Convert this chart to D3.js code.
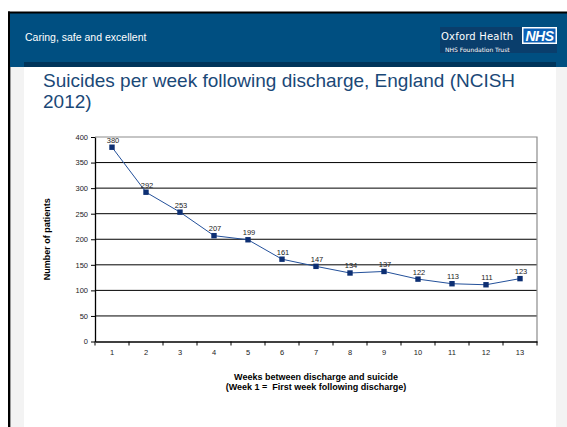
<!DOCTYPE html>
<html>
<head>
<meta charset="utf-8">
<script src="https://cdn.jsdelivr.net/npm/d3@7"></script>
<style>
  body { margin: 0; background: #fff; }
  svg { display: block; font-family: "Liberation Sans", Arial, sans-serif; }
</style>
</head>
<body>
<div id="slide"></div>
<script>
// chart data
const weeks = ["1","2","3","4","5","6","7","8","9","10","11","12","13"];
const suicides = [380, 292, 253, 207, 199, 161, 147, 134, 137, 122, 113, 111, 123];
const yTicks = [0, 50, 100, 150, 200, 250, 300, 350, 400];

const headerText = "Caring, safe and excellent";
const titleLines = ["Suicides per week following discharge, England (NCISH", "2012)"];
const yTitle = "Number of patients";
const xTitleLines = ["Weeks between discharge and suicide", "(Week 1 =  First week following discharge)"];

const width = 567, height = 427;

const svg = d3.select("#slide")
  .append("svg")
  .attr("width", width)
  .attr("height", height);

// slide frame
svg.append("rect").attr("x", 0).attr("y", 0).attr("width", width).attr("height", height).attr("fill", "#fff");
svg.append("rect").attr("x", 10).attr("y", 67).attr("width", 14).attr("height", height - 67).attr("fill", "#f3f3f3");
svg.append("rect").attr("x", 556).attr("y", 67).attr("width", 11).attr("height", height - 67).attr("fill", "#f3f3f3");
svg.append("rect").attr("x", 10).attr("y", 13).attr("width", width - 10).attr("height", 54).attr("fill", "#004f81");
svg.append("rect").attr("x", 24).attr("y", 62).attr("width", 532).attr("height", 5).attr("fill", "#00345a");
svg.append("rect").attr("x", 8).attr("y", 11.5).attr("width", width - 8).attr("height", 2).attr("fill", "#000");
svg.append("rect").attr("x", 8).attr("y", 11.5).attr("width", 2).attr("height", height).attr("fill", "#000");
svg.append("rect").attr("x", 10).attr("y", 67).attr("width", 1).attr("height", height).attr("fill", "#999");

svg.append("text")
  .attr("x", 25).attr("y", 41)
  .attr("fill", "#fff")
  .style("font-size", "10.5px")
  .text(headerText);

// logo
svg.append("rect").attr("x", 440).attr("y", 27).attr("width", 117).attr("height", 26).attr("fill", "#0a3e6c");
svg.append("text")
  .attr("x", 441).attr("y", 40)
  .attr("fill", "#fff")
  .style("font-size", "10px")
  .style("letter-spacing", "0.2px")
  .style("font-family", "'DejaVu Sans', sans-serif")
  .text("Oxford Health");
svg.append("text")
  .attr("x", 445).attr("y", 51.5)
  .attr("fill", "#fff")
  .style("font-size", "6px")
  .style("font-family", "'DejaVu Sans', sans-serif")
  .text("NHS Foundation Trust");
svg.append("rect").attr("x", 522).attr("y", 27).attr("width", 35).attr("height", 17).attr("fill", "#fff");
svg.append("rect").attr("x", 523.5).attr("y", 28.5).attr("width", 32).attr("height", 14).attr("fill", "#0b5fb5");
svg.append("text")
  .attr("x", 539.5).attr("y", 40.5)
  .attr("text-anchor", "middle")
  .attr("fill", "#fff")
  .style("font-size", "14px")
  .style("font-weight", "bold")
  .style("font-style", "italic")
  .style("letter-spacing", "-0.5px")
  .text("NHS");

// title
svg.append("g").selectAll("text")
  .data(titleLines)
  .enter()
  .append("text")
  .attr("x", 43)
  .attr("y", (d, i) => 87 + i * 21)
  .attr("fill", "#1a4877")
  .style("font-size", "19px")
  .text(d => d);

// chart
const plotLeft = 95, plotRight = 537, plotTop = 137, plotBottom = 341.5;

const xScale = d3.scaleBand()
  .domain(weeks)
  .range([plotLeft, plotRight]);

const yScale = d3.scaleLinear()
  .domain([0, 400])
  .range([plotBottom, plotTop]);

// gridlines
svg.append("g").selectAll("line")
  .data(yTicks.filter(d => d > 0 && d < 400))
  .enter()
  .append("line")
  .attr("x1", plotLeft).attr("x2", plotRight)
  .attr("y1", d => yScale(d)).attr("y2", d => yScale(d))
  .attr("stroke", "#000")
  .attr("stroke-width", 1);

// plot area border (top / right)
svg.append("path")
  .attr("d", `M${plotLeft},${plotTop}H${plotRight}V${plotBottom}`)
  .attr("fill", "none")
  .attr("stroke", "#8c8c8c")
  .attr("stroke-width", 1.2);

const yAxis = d3.axisLeft(yScale)
  .tickValues(yTicks)
  .tickSize(4)
  .tickPadding(3)
  .tickSizeOuter(0);

svg.append("g")
  .attr("transform", `translate(${plotLeft},0)`)
  .call(yAxis)
  .call(g => g.select(".domain").attr("stroke-width", 1.3))
  .selectAll("text")
  .style("font-size", "7.5px")
  .style("font-family", "'Liberation Sans', Arial, sans-serif")
  .attr("fill", "#222");

const xAxis = d3.axisBottom(xScale)
  .tickSize(0)
  .tickPadding(8);

const xg = svg.append("g")
  .attr("transform", `translate(0,${plotBottom})`)
  .call(xAxis);
xg.select(".domain").attr("stroke-width", 1.3);
xg.selectAll("text")
  .style("font-size", "7.5px")
  .style("font-family", "'Liberation Sans', Arial, sans-serif")
  .attr("fill", "#222");

// tick marks between categories
svg.append("g").selectAll("line")
  .data(weeks.concat(["end"]))
  .enter()
  .append("line")
  .attr("x1", (d, i) => i < weeks.length ? xScale(d) : plotRight)
  .attr("x2", (d, i) => i < weeks.length ? xScale(d) : plotRight)
  .attr("y1", plotBottom).attr("y2", plotBottom + 4)
  .attr("stroke", "#000");

// series line
const line = d3.line()
  .x((d, i) => xScale(weeks[i]) + xScale.bandwidth() / 2)
  .y(d => yScale(d));

svg.append("path")
  .datum(suicides)
  .attr("d", line)
  .attr("fill", "none")
  .attr("stroke", "#23509a")
  .attr("stroke-width", 1);

svg.append("g").selectAll("rect")
  .data(suicides)
  .enter()
  .append("rect")
  .attr("x", (d, i) => xScale(weeks[i]) + xScale.bandwidth() / 2 - 2.7)
  .attr("y", d => yScale(d) - 2.7)
  .attr("width", 5.4)
  .attr("height", 5.4)
  .attr("fill", "#0d2f73");

svg.append("g").selectAll("text")
  .data(suicides)
  .enter()
  .append("text")
  .attr("x", (d, i) => xScale(weeks[i]) + xScale.bandwidth() / 2 + 1)
  .attr("y", d => yScale(d) - 4.5)
  .attr("text-anchor", "middle")
  .attr("fill", "#222")
  .style("font-size", "7.5px")
  .text(d => d);

// axis titles
svg.append("text")
  .attr("transform", `translate(50,${(plotTop + plotBottom) / 2}) rotate(-90)`)
  .attr("text-anchor", "middle")
  .style("font-size", "9px")
  .style("font-weight", "bold")
  .text(yTitle);

svg.append("g").selectAll("text")
  .data(xTitleLines)
  .enter()
  .append("text")
  .attr("x", (plotLeft + plotRight) / 2)
  .attr("y", (d, i) => 380 + i * 10)
  .attr("text-anchor", "middle")
  .style("font-size", "9px")
  .style("font-weight", "bold")
  .style("white-space", "pre")
  .text(d => d);
</script>
</body>
</html>
